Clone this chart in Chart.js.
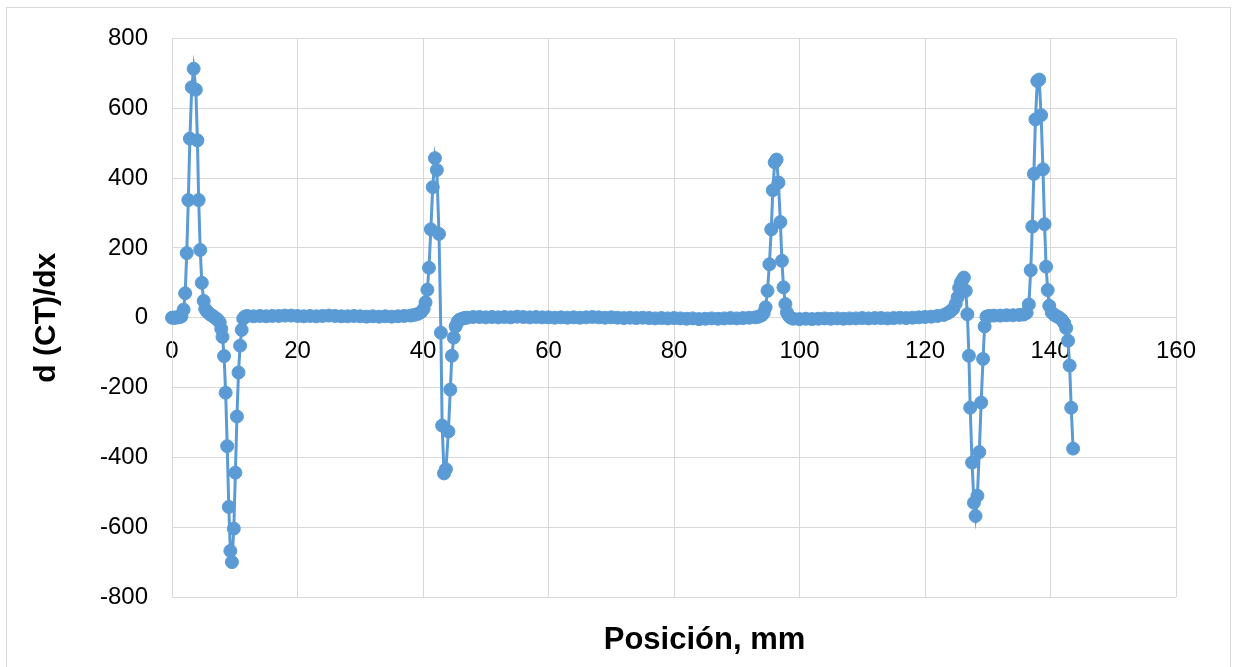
<!DOCTYPE html>
<html><head><meta charset="utf-8">
<script src="https://cdn.jsdelivr.net/npm/chart.js@4.4.1/dist/chart.umd.min.js"></script>
<style>
html,body{margin:0;padding:0;background:#fff;}
#wrap{position:relative;width:1238px;height:667px;overflow:hidden;background:#fff;}
#frame{position:absolute;left:6px;top:7px;width:1225px;height:700px;border:1px solid #d9d9d9;box-sizing:border-box;pointer-events:none;}
canvas{position:absolute;left:0;top:0;}
</style></head><body>
<div id="wrap"><canvas id="c" width="1238" height="667"></canvas><div id="frame"></div></div>
<script>
// Position (mm)
const positionMm = [
  0,0.25,0.5,0.75,1,1.25,1.5,1.85,2.1,2.35,2.6,2.85,3.15,3.45,3.8,4.05,4.25,4.5,4.75,5.05,
  5.3,5.55,5.8,6.05,6.3,6.55,6.8,7.05,7.35,7.6,7.85,8.05,8.3,8.55,8.8,9.05,9.3,9.55,9.85,10.1,
  10.35,10.6,10.85,11.1,11.35,11.6,12,
  13,14,15,16,17,18,19,20,21,22,23,24,25,26,27,28,29,30,31,32,33,34,35,36,37,38,38.6,39.2,39.7,40.1,
  40.4,40.7,40.95,41.25,41.55,41.9,42.2,42.55,42.85,43.05,43.35,43.65,44.05,44.35,44.6,44.9,45.2,45.5,45.8,46.2,46.6,
  47,48,49,50,51,52,53,54,55,56,57,58,59,60,61,62,63,64,65,66,67,68,69,70,71,72,73,74,75,76,77,78,79,80,
  81,82,83,84,85,86,87,88,89,90,91,92,93,93.5,94,94.3,
  94.6,94.9,95.2,95.5,95.75,96.05,96.35,96.65,96.95,97.2,97.45,97.75,98,98.3,98.6,99,
  100,101,102,103,104,105,106,107,108,109,110,111,112,113,114,115,116,117,118,119,120,121,122,123,123.6,124.1,124.5,
  124.9,125.2,125.45,125.7,125.95,126.2,126.5,126.75,127,127.2,127.5,127.8,128.05,128.35,128.65,128.95,129.25,129.5,129.8,
  130.2,131,132,133,134,135,135.7,136.2,
  136.55,136.85,137.1,137.35,137.6,137.9,138.2,138.5,138.8,139.05,139.3,139.55,139.8,140.2,140.6,141,141.4,141.8,142.2,142.5,142.8,143.05,143.3,143.6
];
// d(CT)/dx values
const dCTdx = [
  0,0,0,1,1,2,4,23,70,185,337,513,660,713,653,508,337,194,100,48,
  25,18,14,10,7,4,1,-3,-7,-13,-32,-55,-110,-215,-368,-542,-668,-700,-604,-444,
  -283,-157,-80,-35,-3,3,5,
  4,5,4,5,5,6,6,5,4,5,4,5,6,5,4,4,5,4,3,4,3,4,3,4,5,6,8,11,16,25,
  44,80,143,253,374,457,423,240,-43,-309,-446,-434,-326,-206,-109,-57,-25,-12,-6,-3,-1,
  0,2,2,1,2,1,2,1,3,2,1,2,1,1,0,1,0,1,0,1,2,1,0,1,0,-1,0,-1,0,-1,-2,-1,-2,-1,
  -2,-3,-2,-4,-3,-2,-3,-2,-1,-2,-1,0,1,3,7,14,
  30,77,153,253,365,445,453,387,274,163,87,39,15,5,0,-3,
  -4,-3,-4,-3,-2,-3,-2,-3,-2,-2,-1,-2,-1,-1,-2,-1,0,-1,0,1,2,3,5,8,13,19,26,
  40,58,85,100,108,115,77,10,-109,-258,-415,-530,-568,-510,-385,-243,-118,-25,3,
  5,6,6,7,7,8,9,14,
  38,136,261,412,568,678,682,580,425,268,146,79,34,15,8,4,0,-6,-16,-30,-66,-137,-258,-375
];
const xTickValues = [0,20,40,60,80,100,120,140,160];
const yTickValues = [-800,-600,-400,-200,0,200,400,600,800];
const xTitle = 'Posición, mm';
const yTitle = 'd (CT)/dx';

const BLUE = '#5B9BD5';
const GRID = '#D9D9D9';
const FONT = "'Liberation Sans', Arial, sans-serif";

const points = positionMm.map((x, i) => ({x: x, y: dCTdx[i]}));

// x-axis title, placed below the plot as in the reference
const xTitlePlugin = {
  id: 'xTitlePlugin',
  afterDraw(chart) {
    const ctx = chart.ctx;
    ctx.save();
    ctx.font = 'bold 31px ' + FONT;
    ctx.fillStyle = '#000';
    ctx.textAlign = 'center';
    ctx.textBaseline = 'alphabetic';
    ctx.fillText(xTitle, 704.5, 649);
    ctx.restore();
  }
};

new Chart(document.getElementById('c'), {
  type: 'line',
  data: {
    datasets: [{
      label: yTitle,
      data: points,
      borderColor: BLUE,
      backgroundColor: BLUE,
      pointBackgroundColor: BLUE,
      pointBorderColor: BLUE,
      pointBorderWidth: 1,
      pointRadius: 6.5,
      pointHoverRadius: 6.5,
      borderWidth: 3,
      tension: 0,
      clip: false
    }]
  },
  plugins: [xTitlePlugin],
  options: {
    responsive: false,
    animation: false,
    events: [],
    layout: {padding: {left: 0, top: 37, right: 62, bottom: 70}},
    plugins: {
      legend: {display: false},
      tooltip: {enabled: false},
      title: {display: false}
    },
    scales: {
      x: {
        type: 'linear',
        position: {y: 0},
        min: 0, max: 160,
        afterBuildTicks: s => { s.ticks = xTickValues.map(v => ({value: v})); },
        ticks: {color: '#000', font: {family: FONT, size: 24}, padding: 19, maxRotation: 0, autoSkip: false},
        grid: {color: GRID, lineWidth: 1, drawTicks: false},
        border: {color: GRID, width: 1}
      },
      y: {
        type: 'linear',
        position: 'left',
        min: -800, max: 800,
        afterBuildTicks: s => { s.ticks = yTickValues.map(v => ({value: v})); },
        afterFit: s => { s.width = 172; },
        ticks: {color: '#000', font: {family: FONT, size: 24}, padding: 24},
        grid: {color: GRID, lineWidth: 1, drawTicks: false},
        border: {color: GRID, width: 1},
        title: {
          display: true,
          text: yTitle,
          color: '#000',
          font: {family: FONT, size: 30, weight: 'bold', lineHeight: 1.2},
          padding: {top: 28.6, bottom: 0}
        }
      }
    }
  }
});
</script>
</body></html>
